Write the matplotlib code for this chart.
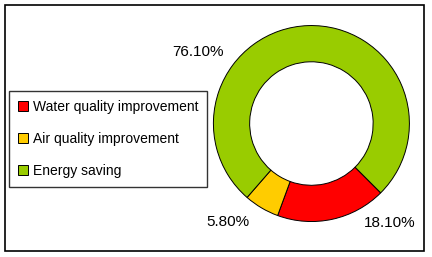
import matplotlib
matplotlib.use("Agg")
import matplotlib.pyplot as plt
from matplotlib.patches import Rectangle

# datos
categorias = ["Water quality improvement", "Air quality improvement", "Energy saving"]
valores = [18.10, 5.80, 76.10]
colores = ["#FF0000", "#FFCC00", "#99CC00"]
etiquetas = ["18.10%", "5.80%", "76.10%"]

plt.rcParams['font.family'] = ['Liberation Sans', 'DejaVu Sans']

fig = plt.figure(figsize=(4.32, 2.57), dpi=100)
fig.patch.set_facecolor("white")

# marco exterior
fig.patches.append(Rectangle((5/432, 1-251/257), 419/432, 246/257,
                             transform=fig.transFigure, fill=False,
                             edgecolor="black", linewidth=1.2))

ax = fig.add_axes([0.494, 0.138, 0.4537, 0.7626])
cunas, _ = ax.pie(valores, colors=colores, startangle=-45, counterclock=False,
                  radius=1, wedgeprops=dict(width=0.37, edgecolor="black", linewidth=0.7))
ax.set_xlim(-1, 1)
ax.set_ylim(-1, 1)
ax.set_aspect("equal")

# posiciones de las etiquetas (como en el original)
pos = [(0.80, -1.015), (-0.85, -1.005), (-1.16, 0.73)]
for (x, y), t in zip(pos, etiquetas):
    ax.text(x, y, t, ha="center", va="center", fontsize=11, clip_on=False)

leg = fig.legend(cunas, categorias, loc="upper left",
                 bbox_to_anchor=(9/432, 1-91/257), fontsize=10,
                 frameon=True, fancybox=False, edgecolor="black",
                 handlelength=0.75, handleheight=0.75, handletextpad=0.3,
                 labelspacing=1.3, borderpad=0.65, borderaxespad=0)
leg.get_frame().set_linewidth(1.0)

fig.savefig("out.png", dpi=100)
